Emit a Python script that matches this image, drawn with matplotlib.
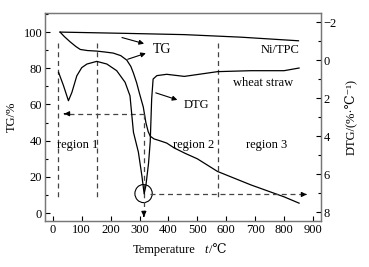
import matplotlib
matplotlib.use('Agg')
import matplotlib.pyplot as plt
from matplotlib.patches import Ellipse
from matplotlib.ticker import MultipleLocator

plt.rcParams['font.family'] = ['Liberation Serif', 'DejaVu Serif']
plt.rcParams['font.size'] = 9
plt.rcParams['axes.unicode_minus'] = True

# Ni/TPC TG
temp_ni = [25, 250, 455, 650, 850]
tg_ni = [100, 99.3, 98.6, 97.2, 95.2]

# wheat straw TG
temp_tg = [25, 40, 60, 80, 95, 120, 152, 180, 209, 235, 256, 270, 279, 290, 300,
           313, 322, 330, 337, 350, 370, 394, 420, 458, 500, 570, 685, 800, 852]
tg_ws = [100, 97.5, 94.6, 92, 90.4, 89.8, 89.5, 89.0, 88.4, 87, 84.5, 81, 77.3, 72, 66,
         58.6, 50, 45, 42.5, 41, 40, 38.7, 36, 33, 30, 23, 15.6, 9, 5.5]

# wheat straw DTG
temp_dtg = [20, 37, 54, 66, 83, 100, 118, 152, 187, 221, 250, 267, 279, 296, 308, 316,
            322, 331, 337, 342, 347, 360, 394, 455, 570, 685, 800, 852]
dtg_ws = [0.65, 1.35, 2.14, 1.7, 0.83, 0.4, 0.21, 0.07, 0.21, 0.56, 1.17, 1.88, 3.8, 4.84,
          6.07, 7.04, 6.6, 5.46, 4.3, 2.05, 1.0, 0.82, 0.75, 0.86, 0.61, 0.56, 0.56, 0.42]

region_bounds = [19.5, 154, 570]
t_peak = 315
tg_peak = 54.9
dtg_peak = 7.07

fig = plt.figure(figsize=(3.69, 2.67), dpi=100)
ax = fig.add_axes([0.122, 0.172, 0.748, 0.779])
ax2 = ax.twinx()

ax.plot(temp_ni, tg_ni, color='black', lw=0.9)
ax.plot(temp_tg, tg_ws, color='black', lw=0.9)
ax2.plot(temp_dtg, dtg_ws, color='black', lw=0.9)

dash = dict(color='#444444', lw=0.9, ls=(0, (4, 3)))
for xb in region_bounds:
    ax.plot([xb, xb], [94, 8], **dash)

# dashed arrows from the DTG peak
ax.plot([t_peak, 40], [tg_peak, tg_peak], **dash)
ax.annotate('', xy=(30, tg_peak), xytext=(50, tg_peak),
            arrowprops=dict(arrowstyle='-|>', color='black', lw=0.9, mutation_scale=7))
ax.plot([t_peak, t_peak], [tg_peak, -1], **dash)
ax.annotate('', xy=(t_peak, -3.5), xytext=(t_peak, 0),
            arrowprops=dict(arrowstyle='-|>', color='black', lw=0.9, mutation_scale=7))
ax2.plot([337, 870], [dtg_peak, dtg_peak], **dash)
ax2.annotate('', xy=(888, dtg_peak), xytext=(865, dtg_peak),
             arrowprops=dict(arrowstyle='-|>', color='black', lw=0.9, mutation_scale=7))

ax.add_patch(Ellipse((314, 10.8), 60, 10, fill=False, color='black', lw=0.8))

# labels with arrows
arr = dict(arrowstyle='-|>', color='black', lw=0.8, mutation_scale=7)
ax.annotate('', xy=(325, 93.2), xytext=(230, 97.4), arrowprops=arr)
ax.annotate('', xy=(331, 88.8), xytext=(250, 84.5), arrowprops=arr)
ax.text(345, 90.6, 'TG', va='center', ha='left', fontsize=10)
ax2.annotate('', xy=(440, 2.14), xytext=(347, 1.68), arrowprops=arr)
ax2.text(452, 2.37, 'DTG', va='center', ha='left')
ax.text(852, 90, 'Ni/TPC', va='center', ha='right')
ax.text(727, 72, 'wheat straw', va='center', ha='center')
ax.text(86, 37.6, 'region 1', va='center', ha='center')
ax.text(486, 37.6, 'region 2', va='center', ha='center')
ax.text(740, 37.6, 'region 3', va='center', ha='center')

ax.set_xlim(-27, 928)
ax.set_ylim(-4.4, 110.5)
ax2.set_ylim(8.47, -2.47)

ax.set_xticks(range(0, 1000, 100))
ax.set_yticks(range(0, 120, 20))
ax.yaxis.set_minor_locator(MultipleLocator(10))
ax2.set_yticks(range(-2, 10, 2))
ax2.yaxis.set_minor_locator(MultipleLocator(1))

for a in (ax, ax2):
    a.tick_params(which='major', direction='in', length=3.5, width=0.8, pad=2)
    a.tick_params(which='minor', direction='in', length=2, width=0.8)
    for s in a.spines.values():
        s.set_color('#777777')
        s.set_linewidth(0.9)

ax.set_ylabel('TG/%', labelpad=4)
ax2.set_ylabel('DTG/(%·℃⁻¹)', labelpad=6)

# x label: "Temperature   t/℃" with italic t
fig.text(133 / 369, 1 - 250 / 267, 'Temperature', ha='left', va='center')
fig.text(204 / 369, 1 - 250 / 267, 't', ha='left', va='center', fontstyle='italic')
fig.text(209 / 369, 1 - 250 / 267, '/℃', ha='left', va='center')

fig.savefig('out.png', dpi=100)
